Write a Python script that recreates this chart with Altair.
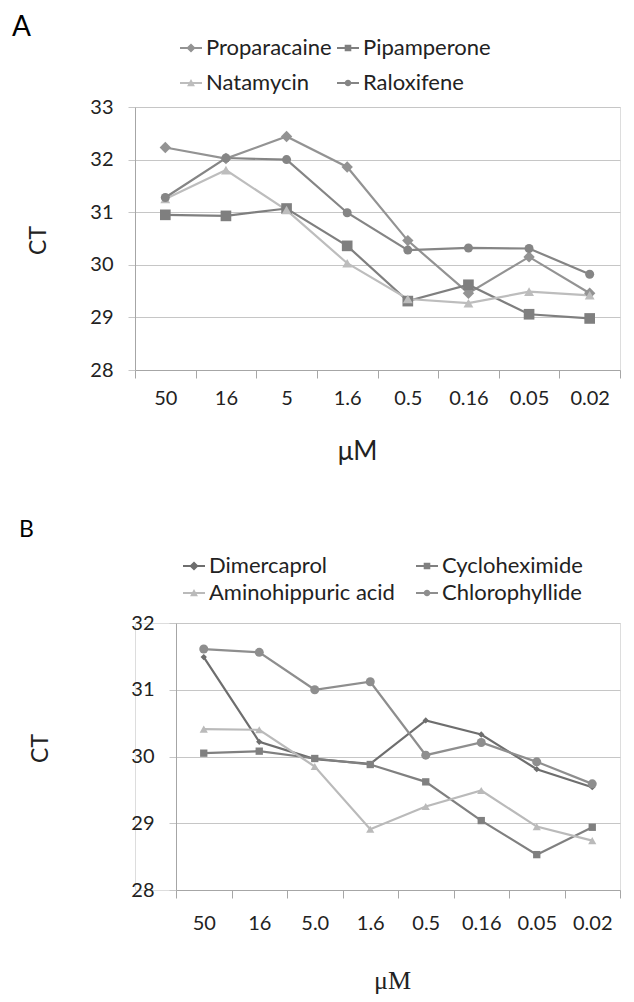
import altair as alt
import pandas as pd

# ---------------- data ----------------
conc_a = ["50", "16", "5", "1.6", "0.5", "0.16", "0.05", "0.02"]
conc_b = ["50", "16", "5.0", "1.6", "0.5", "0.16", "0.05", "0.02"]

series_a = ["Proparacaine", "Pipamperone", "Natamycin", "Raloxifene"]
proparacaine = [32.23, 32.02, 32.44, 31.86, 30.46, 29.46, 30.15, 29.46]
pipamperone = [30.95, 30.93, 31.07, 30.36, 29.31, 29.62, 29.06, 28.98]
natamycin = [31.25, 31.80, 31.04, 30.03, 29.35, 29.27, 29.49, 29.42]
raloxifene = [31.28, 32.03, 32.00, 30.99, 30.28, 30.32, 30.31, 29.82]

series_b = ["Dimercaprol", "Cycloheximide", "Aminohippuric acid", "Chlorophyllide"]
dimercaprol = [31.49, 30.22, 29.96, 29.89, 30.54, 30.33, 29.81, 29.54]
cycloheximide = [30.05, 30.08, 29.97, 29.88, 29.62, 29.04, 28.53, 28.94]
aminohippuric = [30.41, 30.40, 29.85, 28.91, 29.25, 29.49, 28.95, 28.74]
chlorophyllide = [31.61, 31.56, 31.00, 31.12, 30.02, 30.21, 29.92, 29.59]

y_ticks_a = [28, 29, 30, 31, 32, 33]
y_ticks_b = [28, 29, 30, 31, 32]

# ---------------- styles ----------------
colors_a = ["#939393", "#7f7f7f", "#bdbdbd", "#858585"]
colors_b = ["#6e6e6e", "#808080", "#bababa", "#8e8e8e"]
shapes = ["diamond", "square", "triangle-up", "circle"]
sizes_a = [130, 81, 64, 64]
sizes_b = [40, 81, 64, 81]

LINE = "M-1,-0.09H1V0.09H-1Z"
leg_paths = [
    LINE + "M0,-0.42L0.42,0L0,0.42L-0.42,0Z",
    LINE + "M-0.3,-0.3H0.3V0.3H-0.3Z",
    LINE + "M0,-0.36L0.36,0.3L-0.36,0.3Z",
    LINE + "M0.3,0A0.3,0.3 0 1,1 -0.3,0A0.3,0.3 0 1,1 0.3,0Z",
]

FONT = "Lato"
TXT = "#222222"
AX = "#a6a6a6"
GRID = "#c6c6c6"


def to_long(conc, names, values):
    rows = []
    for n, vals in zip(names, values):
        for i, (c, v) in enumerate(zip(conc, vals)):
            rows.append({"conc": c, "idx": i, "series": n, "ct": v})
    return pd.DataFrame(rows)


def panel(df, conc, names, colors, sizes, yticks, width, height, letter,
          letter_size, letter_dx, letter_offset, legend_x, legend_y,
          legend_rowpad, legend_colpad, ytitle_x, ytitle_y, xtitle, xtitle_font,
          xtitle_size, xtitle_x, xtitle_y, xlabel_pad):
    xaxis = alt.Axis(
        title=xtitle, titleFont=xtitle_font, titleFontSize=xtitle_size,
        titleFontWeight="normal", titleColor=TXT, titleX=xtitle_x, titleY=xtitle_y,
        labelAngle=0, labelFont=FONT, labelFontSize=20, labelColor=TXT,
        labelPadding=xlabel_pad, tickBand="extent", tickSize=8, tickColor=AX,
        domainColor=AX, grid=False,
    )
    yaxis = alt.Axis(
        title="CT", titleFont=FONT, titleFontSize=23, titleFontWeight="normal",
        titleColor=TXT, titleX=ytitle_x, titleY=ytitle_y, values=yticks,
        labelFont=FONT, labelFontSize=20, labelColor=TXT, labelPadding=15,
        tickSize=7, tickColor=GRID, domainColor=AX, gridColor=GRID,
    )
    base = alt.Chart(df).encode(
        x=alt.X("conc:N", sort=conc,
                scale=alt.Scale(domain=conc, paddingInner=0, paddingOuter=0),
                axis=xaxis),
        y=alt.Y("ct:Q", scale=alt.Scale(domain=[yticks[0], yticks[-1]], nice=False),
                axis=yaxis),
    )
    cscale = alt.Scale(domain=names, range=colors)
    lines = base.mark_line(strokeWidth=2.2).encode(
        color=alt.Color("series:N", scale=cscale, legend=None),
        order=alt.Order("idx:Q"),
    )
    points = base.mark_point(filled=True, opacity=1).encode(
        color=alt.Color("series:N", scale=cscale, legend=None),
        shape=alt.Shape("series:N", scale=alt.Scale(domain=names, range=shapes), legend=None),
        size=alt.Size("series:N", scale=alt.Scale(domain=names, range=sizes), legend=None),
    )
    # legend fills column by column: order entries so rows read as in the original
    order = [0, 2, 1, 3]
    leg_names = [names[i] for i in order]
    leg_colors = [colors[i] for i in order]
    leg_shapes = [leg_paths[i] for i in order]
    leg = alt.Legend(
        title=None, orient="none", legendX=legend_x, legendY=legend_y, columns=2,
        labelFont=FONT, labelFontSize=22, labelColor=TXT, labelLimit=400,
        labelOffset=4, symbolSize=484, symbolStrokeWidth=0, rowPadding=legend_rowpad,
        columnPadding=legend_colpad, padding=0,
    )
    legend_layer = base.mark_point(filled=True, opacity=1).encode(
        color=alt.Color("series:N", scale=alt.Scale(domain=leg_names, range=leg_colors),
                        sort=leg_names, legend=leg),
        shape=alt.Shape("series:N", scale=alt.Scale(domain=leg_names, range=leg_shapes),
                        sort=leg_names, legend=leg),
    ).transform_filter("datum.ct > 1000")

    return alt.layer(lines, points, legend_layer).resolve_scale(
        color="independent", shape="independent", size="independent"
    ).properties(
        width=width, height=height,
        title=alt.TitleParams(
            text=letter, anchor="start", frame="group", dx=letter_dx,
            offset=letter_offset, font=FONT, fontSize=letter_size,
            fontWeight="normal", color="#000000",
        ),
    )


df_a = to_long(conc_a, series_a, [proparacaine, pipamperone, natamycin, raloxifene])
df_b = to_long(conc_b, series_b, [dimercaprol, cycloheximide, aminohippuric, chlorophyllide])

chart_a = panel(df_a, conc_a, series_a, colors_a, sizes_a, y_ticks_a, 485, 263,
                "A", 28, -123, -5, 45, -70, 13, 5, -85, 133, "μM", FONT, 26, 222, 68, 10)
chart_b = panel(df_b, conc_b, series_b, colors_b, sizes_b, y_ticks_b, 444, 267,
                "B", 23, -157, 13, 7, -68, 5, 21, -124, 125, "μM", "Liberation Serif", 26,
                216, 77, 15)

# empty spacer that shifts panel B's plot area to the right of panel A's
spacer = alt.Chart(pd.DataFrame({"v": [0]})).mark_point(opacity=0).encode(
    x=alt.value(0), y=alt.value(0)
).properties(width=41, height=267)

row_b = alt.HConcatChart(hconcat=[spacer, chart_b], spacing=0, bounds="flush")

chart = alt.VConcatChart(
    vconcat=[chart_a, row_b], spacing=253, bounds="flush",
    padding={"left": 3, "top": 5, "right": 0, "bottom": 0},
).configure_view(stroke=None).configure(background="white")

chart.save("out.html", embed_options={"renderer": "svg", "actions": False})
